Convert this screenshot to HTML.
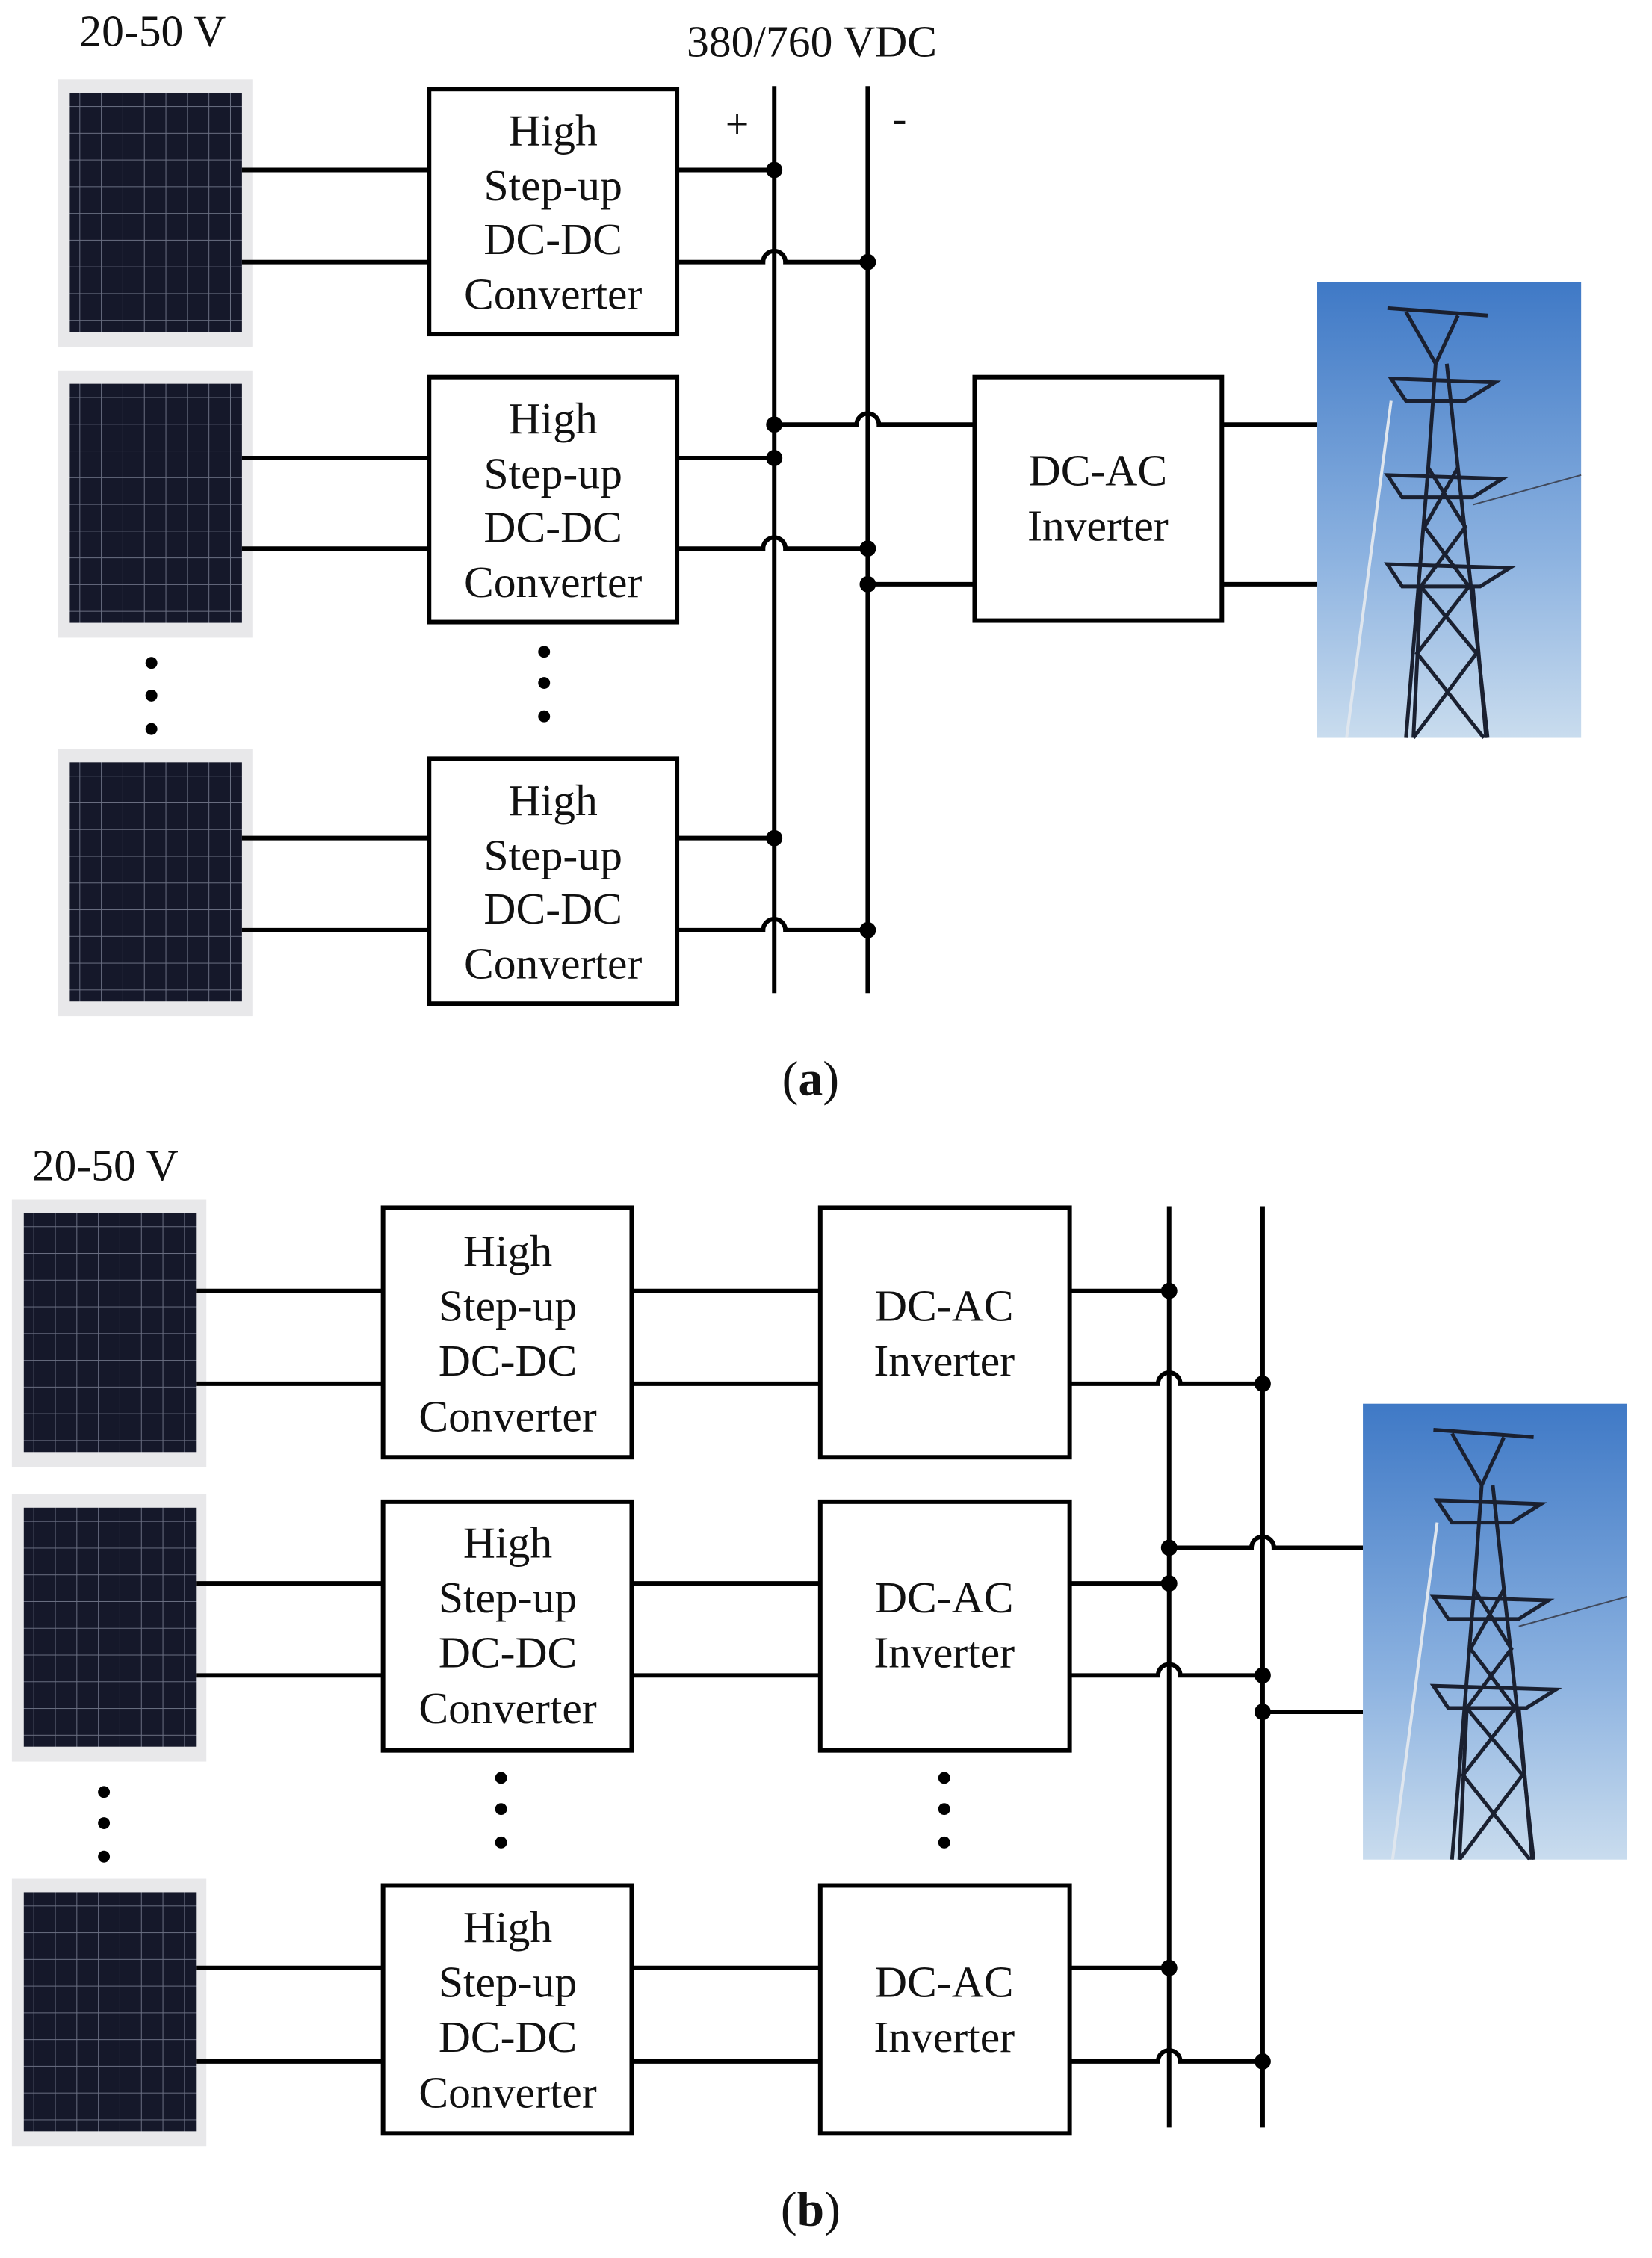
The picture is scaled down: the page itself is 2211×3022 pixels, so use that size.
<!DOCTYPE html>
<html><head><meta charset="utf-8"><style>html,body{margin:0;padding:0;background:#fff}svg{display:block}</style></head>
<body>
<svg width="2211" height="3022" viewBox="0 0 2211 3022" xmlns="http://www.w3.org/2000/svg" font-family="'Liberation Serif', serif">
<defs>
<pattern id="cells" x="0" y="0" width="29" height="36" patternUnits="userSpaceOnUse">
<rect width="29" height="36" fill="#15182a"/>
<path d="M0 0H29M0 0V36" stroke="#6a6f82" stroke-width="2"/>
</pattern>
<linearGradient id="sky" x1="0" y1="0" x2="0" y2="1">
<stop offset="0" stop-color="#3f79c6"/><stop offset="0.6" stop-color="#8cb2e0"/><stop offset="1" stop-color="#c9dcee"/>
</linearGradient>
<g id="panel">
<rect x="0" y="0" width="262" height="360" fill="#e8e8ea"/>
<rect x="16" y="18" width="232" height="322" fill="url(#cells)"/>
</g>
<g id="tower">
<rect x="0" y="0" width="356" height="614" fill="url(#sky)"/>
<g stroke="#1a2030" stroke-width="5" fill="none">
<path d="M95 35L230 45M120 40L160 110L190 45M160 110L150 250L120 614M175 110L190 250L230 614"/>
<path d="M100 130L240 135L200 160L120 160ZM95 260L250 265L210 290L115 290ZM95 380L260 385L220 410L115 410Z"/>
<path d="M150 250L200 330L140 410L215 500L130 614M190 250L145 330L205 410L135 500L225 614"/>
<path d="M140 410L130 614M210 410L228 614"/>
</g>
<path d="M100 160L40 614" stroke="#dfe6ee" stroke-width="4"/>
<path d="M210 300L356 260" stroke="#40485a" stroke-width="2"/>
</g>
</defs>

<g font-size="60" fill="#111" transform="scale(0.9935)">
<!-- ===== (a) ===== -->
<text x="107" y="62">20-50 V</text>
<text x="925" y="76">380/760 VDC</text>
<text x="993" y="186" font-size="56" text-anchor="middle">+</text>
<text x="1212" y="178" font-size="56" text-anchor="middle">-</text>

<use href="#panel" x="78" y="107"/>
<use href="#panel" x="78" y="499"/>
<use href="#panel" x="78" y="1009"/>

<g fill="none" stroke="#000" stroke-width="6">
<rect x="578" y="120" width="334" height="330"/>
<rect x="578" y="508" width="334" height="330"/>
<rect x="578" y="1022" width="334" height="330"/>
<rect x="1313" y="508" width="333" height="328"/>
<path d="M326 229H578M326 353H578M326 617H578M326 739H578M326 1129H578M326 1253H578"/>
<path d="M1043 116V1338M1169 116V1338"/>
<path d="M912 229H1043"/>
<path d="M912 353H1028a15 15 0 0 1 30 0H1169"/>
<path d="M912 617H1043"/>
<path d="M912 739H1028a15 15 0 0 1 30 0H1169"/>
<path d="M912 1129H1043"/>
<path d="M912 1253H1028a15 15 0 0 1 30 0H1169"/>
<path d="M1043 572H1154a15 15 0 0 1 30 0H1313"/>
<path d="M1169 787H1313"/>
<path d="M1646 572H1774M1646 787H1774"/>
</g>
<g fill="#000">
<circle cx="1043" cy="229" r="11"/><circle cx="1169" cy="353" r="11"/>
<circle cx="1043" cy="572" r="11"/><circle cx="1043" cy="617" r="11"/>
<circle cx="1169" cy="739" r="11"/><circle cx="1169" cy="787" r="11"/>
<circle cx="1043" cy="1129" r="11"/><circle cx="1169" cy="1253" r="11"/>
<circle cx="204" cy="893" r="8"/><circle cx="204" cy="937" r="8"/><circle cx="204" cy="982" r="8"/>
<circle cx="733" cy="878" r="8"/><circle cx="733" cy="920" r="8"/><circle cx="733" cy="965" r="8"/>
</g>
<g text-anchor="middle">
<text x="745" y="196">High</text><text x="745" y="270">Step-up</text><text x="745" y="342">DC-DC</text><text x="745" y="416">Converter</text>
<text x="745" y="584">High</text><text x="745" y="658">Step-up</text><text x="745" y="730">DC-DC</text><text x="745" y="804">Converter</text>
<text x="745" y="1098">High</text><text x="745" y="1172">Step-up</text><text x="745" y="1244">DC-DC</text><text x="745" y="1318">Converter</text>
<text x="1479" y="654">DC-AC</text><text x="1479" y="728">Inverter</text>
<text x="1092" y="1475" font-size="66">(<tspan font-weight="bold">a</tspan>)</text>
</g>
<use href="#tower" x="1774" y="380"/>

<!-- ===== (b) ===== -->
<text x="43" y="1590">20-50 V</text>
<use href="#panel" x="16" y="1616"/>
<use href="#panel" x="16" y="2013"/>
<use href="#panel" x="16" y="2531"/>
<g fill="none" stroke="#000" stroke-width="6">
<rect x="516" y="1627" width="335" height="336"/>
<rect x="516" y="2023" width="335" height="335"/>
<rect x="516" y="2540" width="335" height="334"/>
<rect x="1105" y="1627" width="336" height="336"/>
<rect x="1105" y="2023" width="336" height="335"/>
<rect x="1105" y="2540" width="336" height="334"/>
<path d="M264 1739H516M264 1864H516M264 2133H516M264 2257H516M264 2651H516M264 2777H516"/>
<path d="M851 1739H1105M851 1864H1105M851 2133H1105M851 2257H1105M851 2651H1105M851 2777H1105"/>
<path d="M1575 1625V2866M1701 1625V2866"/>
<path d="M1441 1739H1575"/>
<path d="M1441 1864H1560a15 15 0 0 1 30 0H1701"/>
<path d="M1441 2133H1575"/>
<path d="M1441 2257H1560a15 15 0 0 1 30 0H1701"/>
<path d="M1441 2651H1575"/>
<path d="M1441 2777H1560a15 15 0 0 1 30 0H1701"/>
<path d="M1575 2085H1686a15 15 0 0 1 30 0H1836"/>
<path d="M1701 2306H1836"/>
</g>
<g fill="#000">
<circle cx="1575" cy="1739" r="11"/><circle cx="1701" cy="1864" r="11"/>
<circle cx="1575" cy="2085" r="11"/><circle cx="1575" cy="2133" r="11"/>
<circle cx="1701" cy="2257" r="11"/><circle cx="1701" cy="2306" r="11"/>
<circle cx="1575" cy="2651" r="11"/><circle cx="1701" cy="2777" r="11"/>
<circle cx="140" cy="2414" r="8"/><circle cx="140" cy="2456" r="8"/><circle cx="140" cy="2501" r="8"/>
<circle cx="675" cy="2395" r="8"/><circle cx="675" cy="2437" r="8"/><circle cx="675" cy="2482" r="8"/>
<circle cx="1272" cy="2395" r="8"/><circle cx="1272" cy="2437" r="8"/><circle cx="1272" cy="2482" r="8"/>
</g>
<g text-anchor="middle">
<text x="684" y="1705">High</text><text x="684" y="1779">Step-up</text><text x="684" y="1853">DC-DC</text><text x="684" y="1928">Converter</text>
<text x="684" y="2098">High</text><text x="684" y="2172">Step-up</text><text x="684" y="2246">DC-DC</text><text x="684" y="2321">Converter</text>
<text x="684" y="2616">High</text><text x="684" y="2690">Step-up</text><text x="684" y="2764">DC-DC</text><text x="684" y="2839">Converter</text>
<text x="1272" y="1779">DC-AC</text><text x="1272" y="1853">Inverter</text>
<text x="1272" y="2172">DC-AC</text><text x="1272" y="2246">Inverter</text>
<text x="1272" y="2690">DC-AC</text><text x="1272" y="2764">Inverter</text>
<text x="1092" y="2998" font-size="66">(<tspan font-weight="bold">b</tspan>)</text>
</g>
<use href="#tower" x="1836" y="1891"/>
</g>
</svg>
</body></html>
